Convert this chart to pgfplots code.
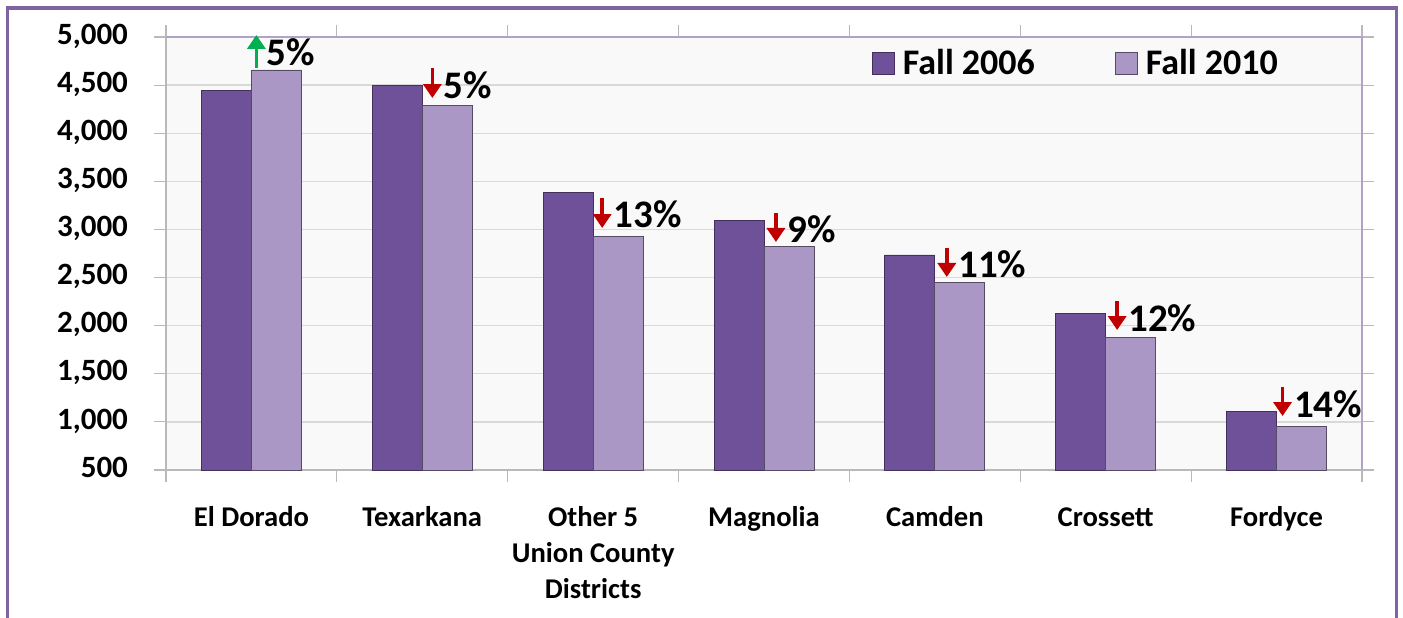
\documentclass[border=0pt]{standalone}
\usepackage{pgfplots}
\pgfplotsset{compat=1.18}
\usepackage{fontspec}
\setmainfont{Carlito}
\usetikzlibrary{arrows.meta}
\definecolor{frame}{HTML}{8064A2}
\definecolor{darkbar}{HTML}{6F5199}
\definecolor{lightbar}{HTML}{AA97C6}
\definecolor{upgreen}{HTML}{00B050}
\definecolor{downred}{HTML}{C00000}
\definecolor{gridgray}{HTML}{D9D9D9}
\begin{document}
\begin{tikzpicture}
\useasboundingbox (-83pt,-73.5pt) rectangle (618.5pt,235pt);
\draw[frame, line width=1.5pt] (-79pt,-80pt) -- (-79pt,231pt) -- (615pt,231pt) -- (615pt,-80pt);
\begin{axis}[
  at={(0pt,0pt)}, anchor=south west,
  scale only axis, width=598pt, height=216.5pt,
  clip mode=individual,
  ybar=0pt, bar width=25pt,
  ymin=500, ymax=5000, ytick={500,1000,...,5000},
  xmin=-0.5, xmax=6.5,
  xtick={-0.5,0.5,...,6.5}, xticklabels={},
  extra x ticks={0,1,2,3,4,5,6},
  extra x tick labels={El Dorado,Texarkana,{Other 5\\Union County\\Districts},Magnolia,Camden,Crossett,Fordyce},
  extra x tick style={major tick length=0pt, grid=none},
  typeset ticklabels with strut,
  tick align=outside, major tick length=6pt,
  tick style={draw=gray!55, line width=0.6pt},
  ymajorgrids, grid style={draw=gridgray, line width=0.7pt},
  axis line style={draw=gray!55, line width=0.6pt},
  axis background/.style={fill=gray!5},
  /pgf/number format/assume math mode=true,
  /pgf/number format/1000 sep={,},
  y tick label style={font=\bfseries\fontsize{15.5}{18}\selectfont, xshift=-9.5pt},
  x tick label style={font=\bfseries\fontsize{14.3}{18}\selectfont, align=center, anchor=north, yshift=-12pt},
  legend columns=2,
  legend style={at={(0.59,0.94)}, anchor=west, draw=none, fill=none, inner sep=0pt,
    font=\bfseries\fontsize{18}{20}\selectfont,
    nodes={inner xsep=4pt},
    /tikz/every even column/.append style={column sep=36pt}},
  legend image code/.code={\path[#1] (0pt,-5.5pt) rectangle (11pt,5.5pt);},
]
\addplot[fill=darkbar, draw=darkbar!60!black, line width=0.4pt]
  coordinates {(0,4440) (1,4500) (2,3380) (3,3090) (4,2735) (5,2130) (6,1110)};
\addplot[fill=lightbar, draw=lightbar!50!black, line width=0.4pt]
  coordinates {(0,4658) (1,4284) (2,2930) (3,2820) (4,2445) (5,1880) (6,950)};
\legend{Fall 2006, Fall 2010}
\draw[frame!60, line width=0.7pt] (rel axis cs:0,1) -- (rel axis cs:1,1) -- (rel axis cs:1,0);
% annotations
\tikzset{pct/.style={anchor=west, inner sep=0pt, font=\bfseries\fontsize{19.5}{20}\selectfont},
  arr/.style={line width=1.8pt, -{Triangle[width=9pt,length=7pt]}}}
\draw[arr, upgreen] (axis cs:0.029,4680) -- (axis cs:0.029,5021);
\node[pct] at (axis cs:0.088,4844) {5\%};
\draw[arr, downred] (axis cs:1.059,4678) -- (axis cs:1.059,4366);
\node[pct] at (axis cs:1.123,4501) {5\%};
\draw[arr, downred] (axis cs:2.053,3327) -- (axis cs:2.053,3015);
\node[pct] at (axis cs:2.117,3161) {13\%};
\draw[arr, downred] (axis cs:3.07,3171) -- (axis cs:3.07,2870);
\node[pct] at (axis cs:3.135,3005) {9\%};
\draw[arr, downred] (axis cs:4.07,2807) -- (axis cs:4.07,2506);
\node[pct] at (axis cs:4.135,2641) {11\%};
\draw[arr, downred] (axis cs:5.067,2256) -- (axis cs:5.067,1955);
\node[pct] at (axis cs:5.13,2080) {12\%};
\draw[arr, downred] (axis cs:6.035,1363) -- (axis cs:6.035,1061);
\node[pct] at (axis cs:6.1,1186) {14\%};
\end{axis}
\end{tikzpicture}
\end{document}
